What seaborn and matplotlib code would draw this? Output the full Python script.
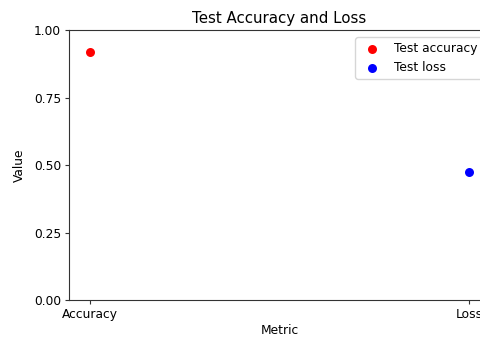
import matplotlib
matplotlib.use("Agg")
import matplotlib.pyplot as plt
import seaborn as sns

metrics = ["Accuracy", "Loss"]
test_accuracy = [0.918]
test_loss = [0.474]
yticks = [0.0, 0.25, 0.5, 0.75, 1.0]

plt.rcParams["font.family"] = ["DejaVu Sans"]

fig = plt.figure(figsize=(4.8, 3.41), dpi=100)
ax = fig.add_axes([0.144, 0.12, 0.877, 0.792])

sns.scatterplot(x=[metrics[0]], y=test_accuracy, color="red", s=42,
                linewidth=0, label="Test accuracy", ax=ax)
sns.scatterplot(x=[metrics[1]], y=test_loss, color="blue", s=42,
                linewidth=0, label="Test loss", ax=ax)

ax.set_ylim(0, 1.0)
ax.set_yticks(yticks)
ax.set_yticklabels([f"{v:.2f}" for v in yticks])
ax.set_xlim(-0.055, 1.055)
ax.spines["right"].set_visible(False)
for side in ("left", "bottom", "top"):
    ax.spines[side].set_color("#333333")
ax.set_title("Test Accuracy and Loss", fontsize=10.8, pad=5)
ax.set_xlabel("Metric", fontsize=8.8, labelpad=2)
ax.set_ylabel("Value", fontsize=8.8, labelpad=6)
ax.tick_params(labelsize=8.8, length=2.8, pad=3, color="#333333")
ax.legend(loc="upper right", fontsize=8.8, borderaxespad=0.6,
          labelspacing=0.45)

fig.savefig("out.png", dpi=100)
